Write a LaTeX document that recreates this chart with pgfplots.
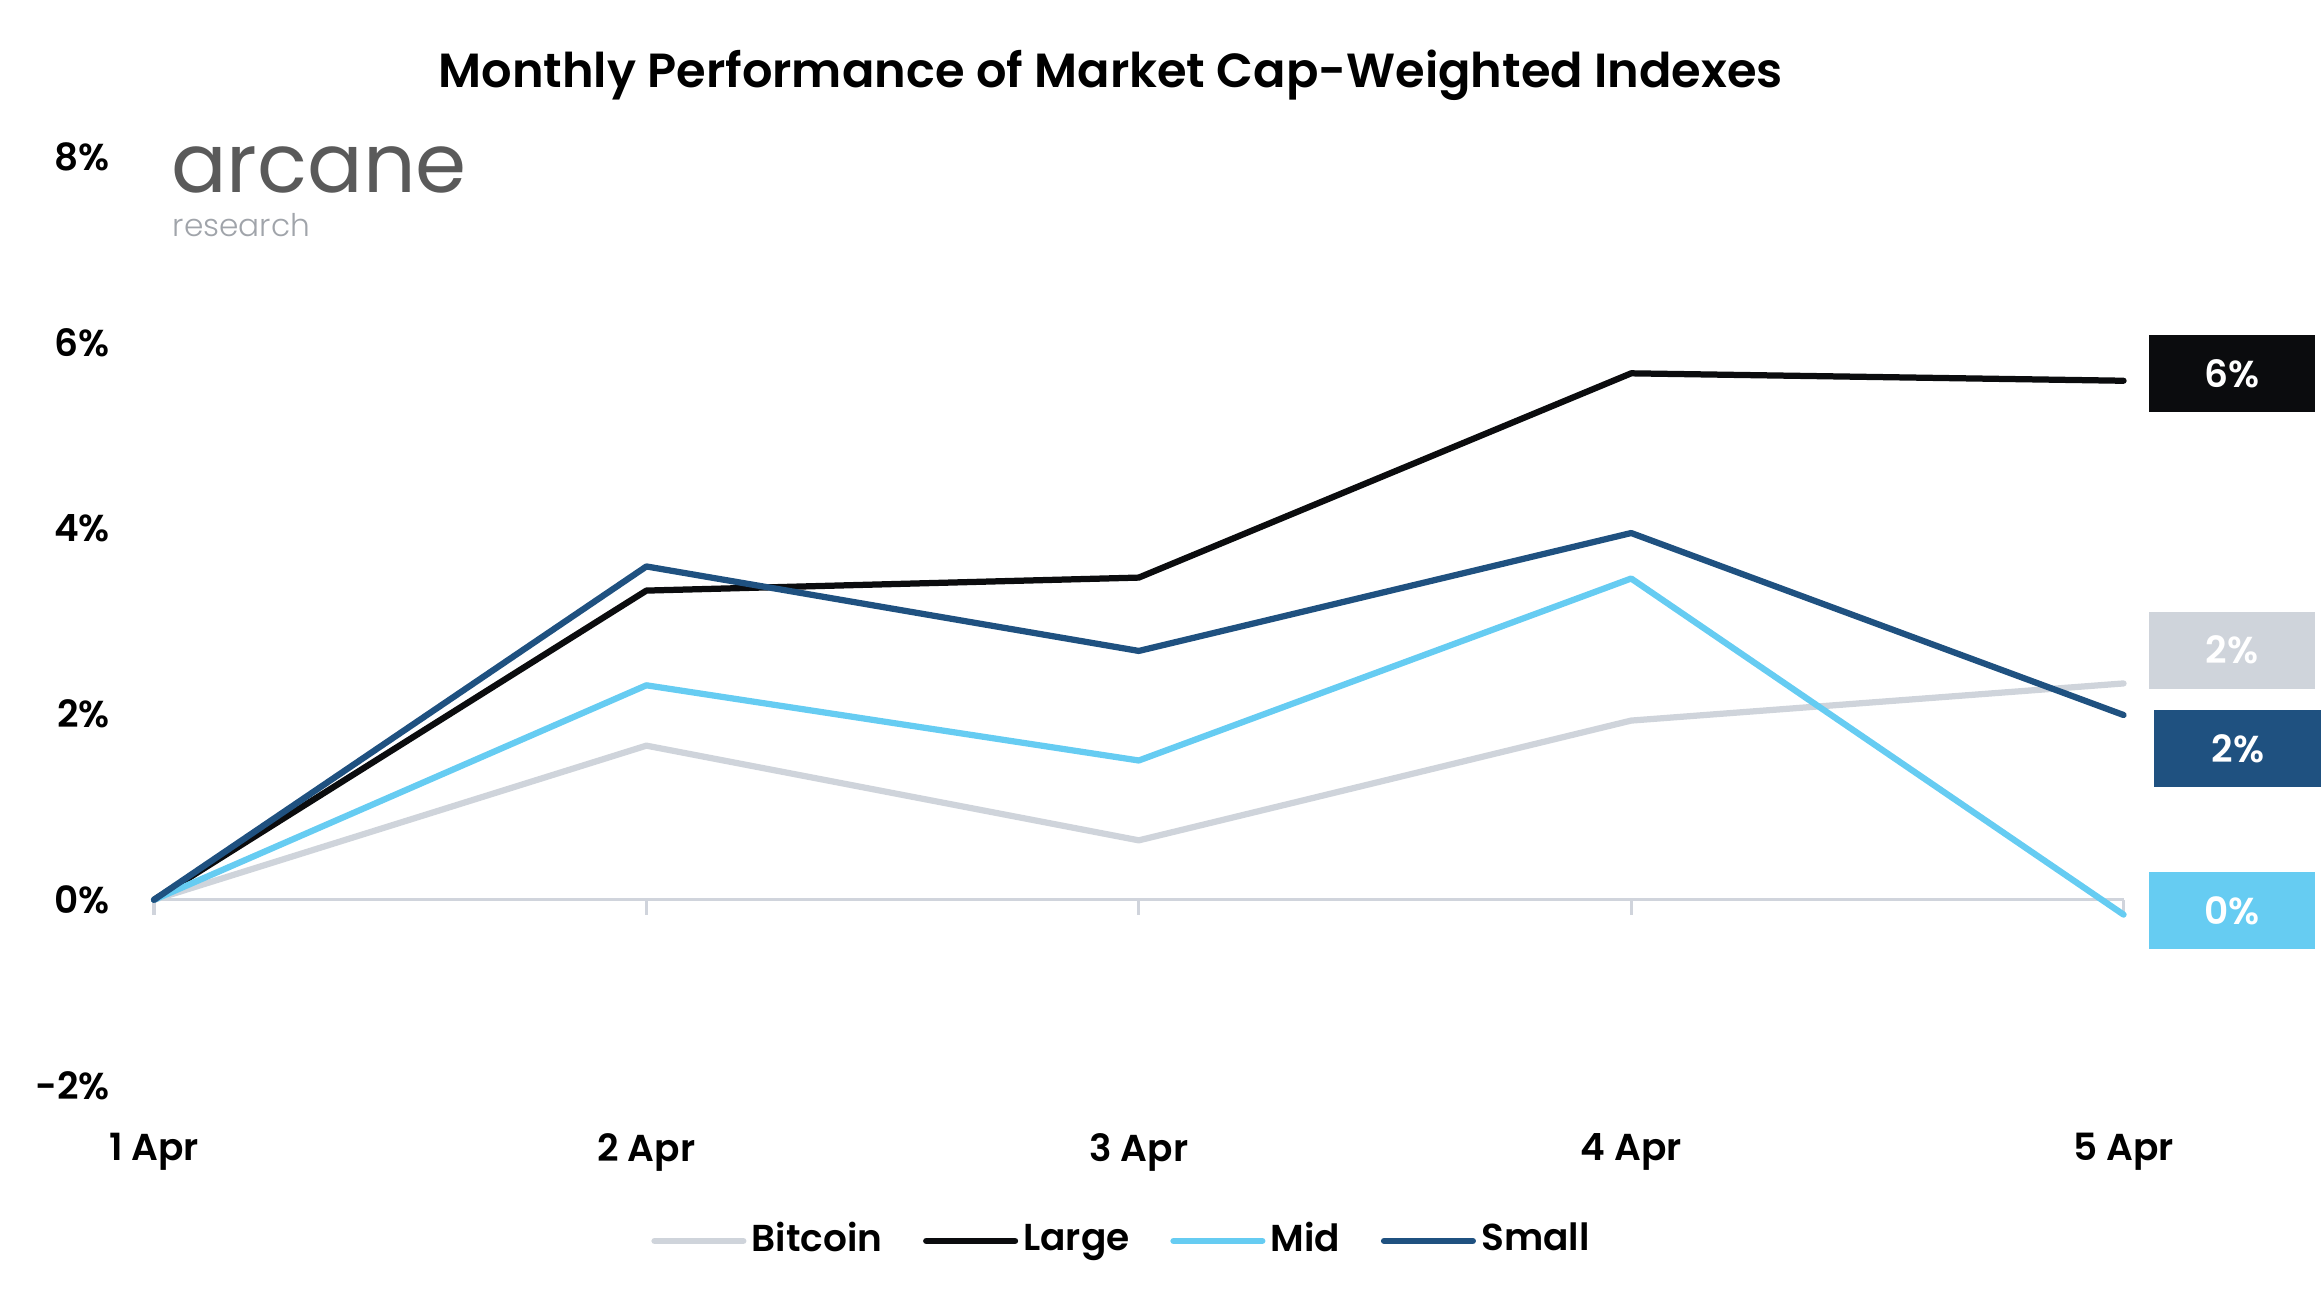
\documentclass[border=0pt]{standalone}
\usepackage{pgfplots}
\pgfplotsset{compat=1.18}
\usepackage{fontspec}
\setmainfont{Poppins}[BoldFont={Poppins SemiBold}]
\newfontfamily\logofont{Poppins Light}
\definecolor{cbtc}{HTML}{CFD4DB}
\definecolor{clarge}{HTML}{0B0C0E}
\definecolor{cmid}{HTML}{66CCF2}
\definecolor{csmall}{HTML}{1F5180}
\definecolor{axisgrey}{HTML}{D0D4DC}
\definecolor{logodark}{HTML}{5A5A5A}
\definecolor{logolight}{HTML}{A0A4AA}
\begin{document}
\begin{tikzpicture}
\useasboundingbox (0mm,0mm) rectangle (156.8mm,88.4mm);
\node[font=\bfseries\fontsize{9.2}{10}\selectfont, inner sep=0] at (75mm,83.3mm) {Monthly Performance of Market Cap-Weighted Indexes};
\node[anchor=base west, text=logodark, inner sep=0, font=\fontsize{15.8}{17}\selectfont] at (11.5mm,75.4mm) {arcane};
\node[anchor=base west, text=logolight, inner sep=0, font=\logofont\fontsize{6.0}{7}\selectfont] at (11.6mm,72.4mm) {research};
\begin{axis}[
  at={(10.4mm,15.1mm)}, anchor=south west,
  scale only axis, width=133mm, height=62.7mm,
  xmin=0, xmax=4, ymin=-2, ymax=8,
  clip=false,
  axis line style={draw=none},
  major tick length=0,
  xtick={0,1,2,3,4},
  xticklabels={1 Apr,2 Apr,3 Apr,4 Apr,5 Apr},
  ytick={-2,0,2,4,6,8},
  yticklabels={-2\%,0\%,2\%,4\%,6\%,8\%},
  xticklabel style={anchor=center, yshift=-4.5mm, inner sep=0, font=\bfseries\fontsize{7.2}{8}\selectfont},
  yticklabel style={anchor=east, xshift=-2.9mm, inner sep=0, font=\bfseries\fontsize{7.2}{8}\selectfont},
  legend columns=4,
  legend style={draw=none, fill=none, at={(0.492,0)}, yshift=-10.5mm, anchor=center,
    font=\bfseries\fontsize{7.2}{8}\selectfont,
    nodes={inner sep=0.35mm},
    /tikz/every even column/.append style={column sep=2.4mm},
    inner sep=0},
  legend image code/.code={\draw[#1, line cap=round] (0mm,0mm) -- (6mm,0mm);},
  every axis plot/.append style={line width=1.2pt, line join=round, line cap=round},
]
\draw[axisgrey, line width=0.6pt] (axis cs:0,0) -- (axis cs:4,0);
\draw[axisgrey, line width=0.6pt] (axis cs:0,0) -- ([yshift=-1mm]axis cs:0,0);
\draw[axisgrey, line width=0.6pt] (axis cs:1,0) -- ([yshift=-1mm]axis cs:1,0);
\draw[axisgrey, line width=0.6pt] (axis cs:2,0) -- ([yshift=-1mm]axis cs:2,0);
\draw[axisgrey, line width=0.6pt] (axis cs:3,0) -- ([yshift=-1mm]axis cs:3,0);
\draw[axisgrey, line width=0.6pt] (axis cs:4,0) -- ([yshift=-1mm]axis cs:4,0);
\addplot[cbtc] coordinates {(0,0) (1,1.66) (2,0.64) (3,1.93) (4,2.33)};
\addlegendentry{Bitcoin}
\addplot[clarge] coordinates {(0,0) (1,3.33) (2,3.47) (3,5.67) (4,5.59)};
\addlegendentry{Large}
\addplot[cmid] coordinates {(0,0) (1,2.31) (2,1.50) (3,3.46) (4,-0.16)};
\addlegendentry{Mid}
\addplot[csmall] coordinates {(0,0) (1,3.59) (2,2.68) (3,3.95) (4,1.99)};
\addlegendentry{Small}
\node[fill=clarge, text=white, minimum width=11.2mm, minimum height=5.2mm, inner sep=0, font=\bfseries\fontsize{7.2}{8}\selectfont] at (axis cs:4.22,5.67) {6\%};
\node[fill=cbtc, text=white, minimum width=11.2mm, minimum height=5.2mm, inner sep=0, font=\bfseries\fontsize{7.2}{8}\selectfont] at (axis cs:4.22,2.69) {2\%};
\node[fill=csmall, text=white, minimum width=11.3mm, minimum height=5.2mm, inner sep=0, font=\bfseries\fontsize{7.2}{8}\selectfont] at (axis cs:4.232,1.63) {2\%};
\node[fill=cmid, text=white, minimum width=11.2mm, minimum height=5.2mm, inner sep=0, font=\bfseries\fontsize{7.2}{8}\selectfont] at (axis cs:4.22,-0.12) {0\%};
\end{axis}
\end{tikzpicture}
\end{document}
